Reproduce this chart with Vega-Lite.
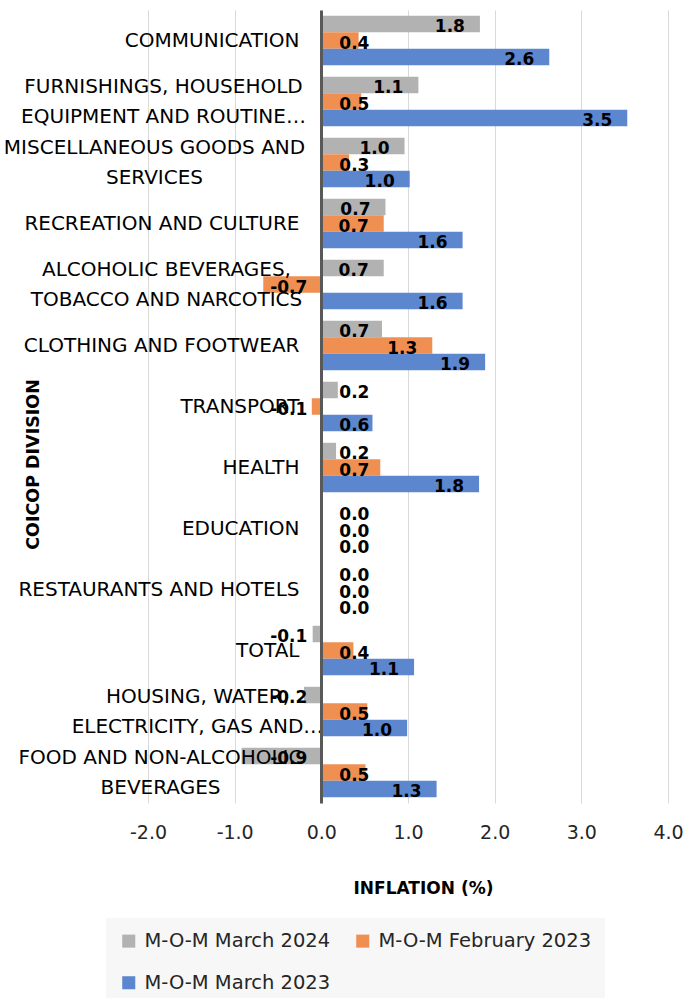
{
  "$schema": "https://vega.github.io/schema/vega-lite/v6.json",
  "width": 520,
  "height": 793,
  "autosize": {"type": "none"},
  "padding": {"left": 148, "top": 10, "right": 26, "bottom": 195},
  "background": "white",
  "config": {"font": "DejaVu Sans", "view": {"stroke": null}},
  "data": {"values": [
    {"division": "COMMUNICATION", "series": "M-O-M March 2024", "value": 1.83},
    {"division": "COMMUNICATION", "series": "M-O-M February 2023", "value": 0.43},
    {"division": "COMMUNICATION", "series": "M-O-M March 2023", "value": 2.63},
    {"division": "FURNISHINGS, HOUSEHOLD|EQUIPMENT AND ROUTINE…", "series": "M-O-M March 2024", "value": 1.12},
    {"division": "FURNISHINGS, HOUSEHOLD|EQUIPMENT AND ROUTINE…", "series": "M-O-M February 2023", "value": 0.46},
    {"division": "FURNISHINGS, HOUSEHOLD|EQUIPMENT AND ROUTINE…", "series": "M-O-M March 2023", "value": 3.53},
    {"division": "MISCELLANEOUS GOODS AND|SERVICES", "series": "M-O-M March 2024", "value": 0.96},
    {"division": "MISCELLANEOUS GOODS AND|SERVICES", "series": "M-O-M February 2023", "value": 0.32},
    {"division": "MISCELLANEOUS GOODS AND|SERVICES", "series": "M-O-M March 2023", "value": 1.02},
    {"division": "RECREATION AND CULTURE", "series": "M-O-M March 2024", "value": 0.74},
    {"division": "RECREATION AND CULTURE", "series": "M-O-M February 2023", "value": 0.72},
    {"division": "RECREATION AND CULTURE", "series": "M-O-M March 2023", "value": 1.63},
    {"division": "ALCOHOLIC BEVERAGES,|TOBACCO AND NARCOTICS", "series": "M-O-M March 2024", "value": 0.72},
    {"division": "ALCOHOLIC BEVERAGES,|TOBACCO AND NARCOTICS", "series": "M-O-M February 2023", "value": -0.67},
    {"division": "ALCOHOLIC BEVERAGES,|TOBACCO AND NARCOTICS", "series": "M-O-M March 2023", "value": 1.63},
    {"division": "CLOTHING AND FOOTWEAR", "series": "M-O-M March 2024", "value": 0.7},
    {"division": "CLOTHING AND FOOTWEAR", "series": "M-O-M February 2023", "value": 1.28},
    {"division": "CLOTHING AND FOOTWEAR", "series": "M-O-M March 2023", "value": 1.89},
    {"division": "TRANSPORT", "series": "M-O-M March 2024", "value": 0.19},
    {"division": "TRANSPORT", "series": "M-O-M February 2023", "value": -0.11},
    {"division": "TRANSPORT", "series": "M-O-M March 2023", "value": 0.59},
    {"division": "HEALTH", "series": "M-O-M March 2024", "value": 0.17},
    {"division": "HEALTH", "series": "M-O-M February 2023", "value": 0.68},
    {"division": "HEALTH", "series": "M-O-M March 2023", "value": 1.82},
    {"division": "EDUCATION", "series": "M-O-M March 2024", "value": 0},
    {"division": "EDUCATION", "series": "M-O-M February 2023", "value": 0},
    {"division": "EDUCATION", "series": "M-O-M March 2023", "value": 0},
    {"division": "RESTAURANTS AND HOTELS", "series": "M-O-M March 2024", "value": 0},
    {"division": "RESTAURANTS AND HOTELS", "series": "M-O-M February 2023", "value": 0},
    {"division": "RESTAURANTS AND HOTELS", "series": "M-O-M March 2023", "value": 0},
    {"division": "TOTAL", "series": "M-O-M March 2024", "value": -0.1},
    {"division": "TOTAL", "series": "M-O-M February 2023", "value": 0.37},
    {"division": "TOTAL", "series": "M-O-M March 2023", "value": 1.07},
    {"division": "HOUSING, WATER,|ELECTRICITY, GAS AND…", "series": "M-O-M March 2024", "value": -0.2},
    {"division": "HOUSING, WATER,|ELECTRICITY, GAS AND…", "series": "M-O-M February 2023", "value": 0.53},
    {"division": "HOUSING, WATER,|ELECTRICITY, GAS AND…", "series": "M-O-M March 2023", "value": 0.99},
    {"division": "FOOD AND NON-ALCOHOLIC|BEVERAGES", "series": "M-O-M March 2024", "value": -0.92},
    {"division": "FOOD AND NON-ALCOHOLIC|BEVERAGES", "series": "M-O-M February 2023", "value": 0.51},
    {"division": "FOOD AND NON-ALCOHOLIC|BEVERAGES", "series": "M-O-M March 2023", "value": 1.33}
  ]},
  "transform": [
    {"calculate": "replace(format(datum.value, '.1f'), '\u2212', '-')", "as": "label"}
  ],
  "encoding": {
    "y": {
      "field": "division", "type": "nominal", "sort": null,
      "scale": {"paddingInner": 0.19, "paddingOuter": 0.095},
      "axis": {
        "zindex": 1,
        "title": "COICOP DIVISION", "titleFontWeight": "bold", "titleFontSize": 17.5, "titleColor": "#000",
        "titleX": -288, "titleY": 454, "titleAngle": -90, "titleAlign": "center", "titleBaseline": "middle",
        "offset": -173, "ticks": false, "domainColor": "#595959", "domainWidth": 3, "grid": false,
        "labelExpr": "split(datum.value, '|')", "labelFontSize": 20, "labelColor": "#000", "labelLimit": 0,
        "labelLineHeight": 30, "labelBaseline": "middle",
        "labelAlign": {"condition": {"test": "indexof(datum.value, '|') >= 0", "value": "center"}, "value": "right"},
        "labelOffset": {"condition": {"test": "indexof(datum.value, '|') >= 0", "value": -15}, "value": 0},
        "labelPadding": {"condition": [
          {"test": "indexof(datum.value, 'HOUSING') == 0", "value": 124},
          {"test": "indexof(datum.value, 'MISC') == 0", "value": 167},
          {"test": "indexof(datum.value, 'FOOD') == 0", "value": 161},
          {"test": "indexof(datum.value, 'ALCO') == 0", "value": 155},
          {"test": "indexof(datum.value, '|') >= 0", "value": 158}
        ], "value": 22}
      }
    },
    "yOffset": {"field": "series", "type": "nominal", "sort": ["M-O-M March 2024", "M-O-M February 2023", "M-O-M March 2023"]}
  },
  "layer": [
    {
      "mark": {"type": "bar"},
      "encoding": {
        "x": {
          "field": "value", "type": "quantitative",
          "scale": {"domain": [-2, 4], "nice": false, "zero": false},
          "axis": {
            "values": [-2, -1, 0, 1, 2, 3, 4],
            "labelExpr": "replace(format(datum.value, '.1f'), '\u2212', '-')",
            "grid": true, "gridColor": "#d9d9d9", "gridWidth": 1,
            "domain": false, "ticks": false, "labelFlush": false, "labelOverlap": false,
            "labelFontSize": 19, "labelColor": "#262626", "labelPadding": 20,
            "title": "INFLATION (%)", "titleFontSize": 17, "titleFontWeight": "bold", "titleColor": "#000",
            "titleX": 275, "titleY": 85, "titleAlign": "center", "titleBaseline": "middle"
          }
        },
        "color": {
          "field": "series", "type": "nominal",
          "scale": {"domain": ["M-O-M March 2024", "M-O-M February 2023", "M-O-M March 2023"], "range": ["#b2b2b2", "#ef9052", "#5c87cf"]},
          "legend": {
            "orient": "none", "legendX": -42, "legendY": 908, "direction": "horizontal", "columns": 2,
            "title": null, "fillColor": "#f7f7f7", "padding": 13,
            "symbolType": "square", "symbolSize": 170, "symbolStrokeWidth": 0,
            "labelFontSize": 19.5, "labelColor": "#262626", "labelLimit": 0, "labelOffset": 6,
            "columnPadding": 22, "rowPadding": 21
          }
        }
      }
    },
    {
      "transform": [{"filter": "datum.value >= 0.72"}],
      "mark": {"type": "text", "align": "right", "baseline": "middle", "dx": -15, "dy": 3, "fontWeight": "bold", "fontSize": 17, "color": "#000"},
      "encoding": {"x": {"field": "value", "type": "quantitative"}, "text": {"field": "label"}}
    },
    {
      "transform": [{"filter": "datum.value >= 0 && datum.value < 0.72"}],
      "mark": {"type": "text", "align": "left", "baseline": "middle", "dx": 18, "dy": 3, "fontWeight": "bold", "fontSize": 17, "color": "#000"},
      "encoding": {"x": {"datum": 0, "type": "quantitative"}, "text": {"field": "label"}}
    },
    {
      "transform": [{"filter": "datum.value < 0"}],
      "mark": {"type": "text", "align": "right", "baseline": "middle", "dx": -14, "dy": 3, "fontWeight": "bold", "fontSize": 17, "color": "#000"},
      "encoding": {"x": {"datum": 0, "type": "quantitative"}, "text": {"field": "label"}}
    }
  ]
}
